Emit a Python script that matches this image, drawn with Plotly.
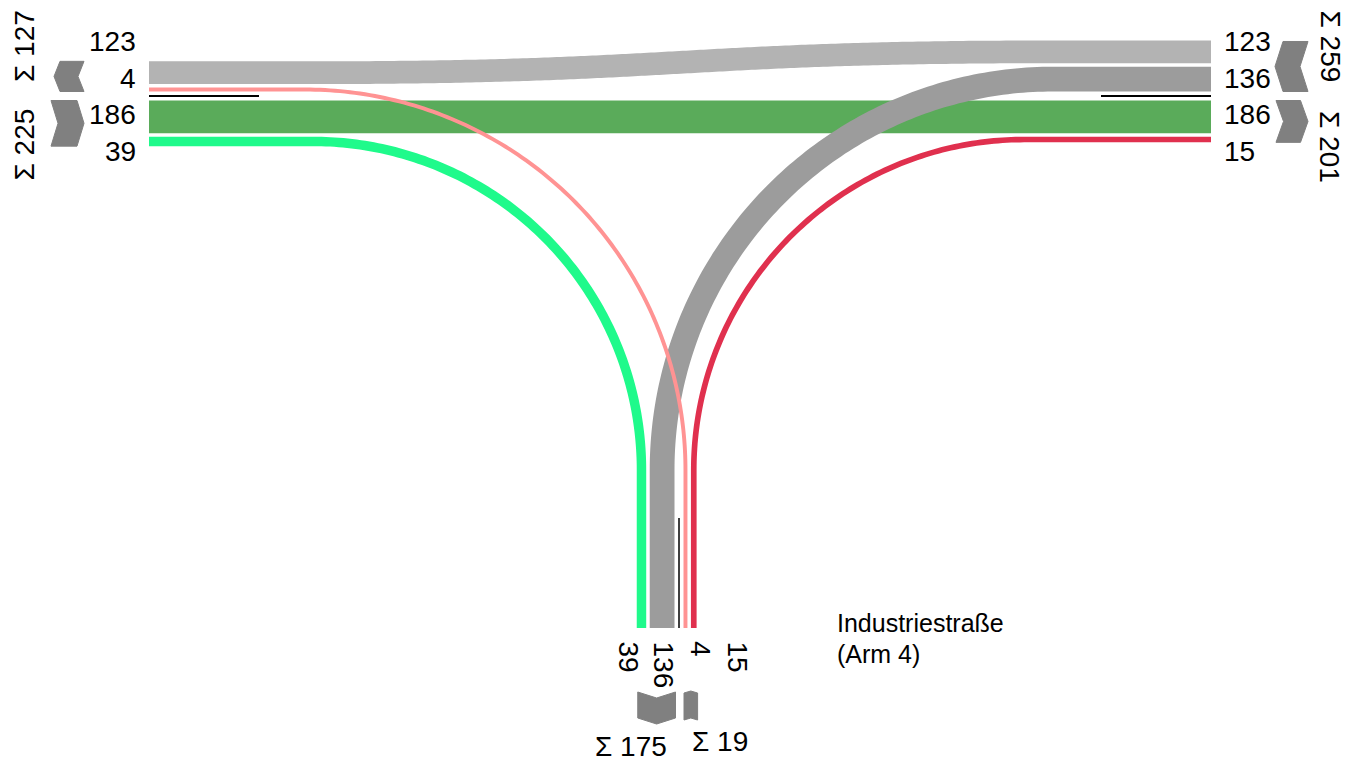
import numpy as np
import plotly.graph_objects as go

# ---------------- data ----------------
flow_from = ["W", "E", "W", "E", "S", "S"]
flow_to = ["E", "W", "S", "S", "E", "W"]
flow_values = [186, 123, 39, 136, 15, 4]
street_label = ["Industriestraße", "(Arm 4)"]

# ---------------- style / layout ----------------
flow_colors = {
    ("W", "E"): "#5aab5a",
    ("E", "W"): "#b3b3b3",
    ("W", "S"): "#1ffa8b",
    ("E", "S"): "#9c9c9c",
    ("S", "E"): "#e0304e",
    ("S", "W"): "#ff9393",
}
FONT = "Liberation Sans, Arial, sans-serif"
PAGE_OFF = 8  # default body margin of the html page
W_END, E_END, S_END = 149, 1211, 628
DIV_Y, DIV_X, DIV_LEN = 96, 679, 110
TURN_Y = 470
GAP, DIV_GAP = 3.5, 4.5
SX0, SX1 = 310, 1053
LABEL_STEP = 36.5

lane_order = {
    ("W", "out"): [("S", "W"), ("E", "W")],
    ("W", "in"): [("W", "E"), ("W", "S")],
    ("E", "in"): [("E", "S"), ("E", "W")],
    ("E", "out"): [("W", "E"), ("S", "E")],
    ("S", "out"): [("E", "S"), ("W", "S")],
    ("S", "in"): [("S", "W"), ("S", "E")],
}
lane_sign = {("W", "out"): -1, ("W", "in"): 1, ("E", "in"): -1, ("E", "out"): 1,
             ("S", "out"): -1, ("S", "in"): 1}

val = {(f, t): v for f, t, v in zip(flow_from, flow_to, flow_values)}


def bw(v):
    return 3.3 + 0.158 * v


lane_pos = {"W": {}, "E": {}, "S": {}}
group_extent = {}
for (arm, kind), keys in lane_order.items():
    s = lane_sign[(arm, kind)]
    div = DIV_X if arm == "S" else DIV_Y
    pos = div + s * DIV_GAP
    start = pos
    for k in keys:
        w = bw(val[k])
        lane_pos[arm][k] = pos + s * w / 2
        pos += s * (w + GAP)
    end = pos - s * GAP
    group_extent[(arm, kind)] = (min(start, end), max(start, end))


def arc(cx, cy, r, a0, a1, n=120):
    th = np.linspace(a0, a1, n)
    return cx + r * np.sin(th), cy - r * np.cos(th)


fig = go.Figure()
for f, t in zip(flow_from, flow_to):
    key = (f, t)
    arms_ = {f, t}
    if arms_ == {"W", "E"}:
        yw, ye = lane_pos["W"][key], lane_pos["E"][key]
        if abs(yw - ye) < 0.01:
            xs = np.array([W_END, E_END]); ys = np.array([yw, ye])
        else:
            tt = np.linspace(0, 1, 160)
            xm = (SX0 + SX1) / 2
            bx = (1 - tt) ** 3 * SX0 + 3 * (1 - tt) ** 2 * tt * xm + 3 * (1 - tt) * tt ** 2 * xm + tt ** 3 * SX1
            by = (1 - tt) ** 3 * yw + 3 * (1 - tt) ** 2 * tt * yw + 3 * (1 - tt) * tt ** 2 * ye + tt ** 3 * ye
            xs = np.concatenate([[W_END], bx, [E_END]])
            ys = np.concatenate([[yw], by, [ye]])
    elif arms_ == {"W", "S"}:
        yw, xsL = lane_pos["W"][key], lane_pos["S"][key]
        r = TURN_Y - yw
        cx = xsL - r
        ax, ay = arc(cx, TURN_Y, r, 0, np.pi / 2)
        xs = np.concatenate([[W_END], ax, [xsL]])
        ys = np.concatenate([[yw], ay, [S_END]])
    else:
        ye, xsL = lane_pos["E"][key], lane_pos["S"][key]
        r = TURN_Y - ye
        cx = xsL + r
        ax, ay = arc(cx, TURN_Y, r, 0, -np.pi / 2)
        xs = np.concatenate([[E_END], ax, [xsL]])
        ys = np.concatenate([[ye], ay, [S_END]])
    fig.add_trace(go.Scatter(x=xs, y=ys, mode="lines",
                             line=dict(color=flow_colors[key], width=bw(val[key]), simplify=False),
                             hoverinfo="skip", showlegend=False))

shapes = []
# divider lines
shapes.append(dict(type="line", x0=W_END, x1=W_END + DIV_LEN, y0=DIV_Y, y1=DIV_Y,
                   line=dict(color="black", width=2)))
shapes.append(dict(type="line", x0=E_END - DIV_LEN, x1=E_END, y0=DIV_Y, y1=DIV_Y,
                   line=dict(color="black", width=2)))
shapes.append(dict(type="line", x0=DIV_X, x1=DIV_X, y0=S_END - DIV_LEN, y1=S_END,
                   line=dict(color="black", width=1.5)))


def chevron(x0, x1, y0, y1, direction, d):
    xm, ym = (x0 + x1) / 2, (y0 + y1) / 2
    if direction == "left":
        pts = [(x0 + d, y0), (x1, y0), (x1 - d, ym), (x1, y1), (x0 + d, y1), (x0, ym)]
    elif direction == "right":
        pts = [(x0, y0), (x1 - d, y0), (x1, ym), (x1 - d, y1), (x0, y1), (x0 + d, ym)]
    elif direction == "down":
        pts = [(x0, y0), (xm, y0 + d), (x1, y0), (x1, y1 - d), (xm, y1), (x0, y1 - d)]
    else:
        pts = [(x0, y0 + d), (xm, y0), (x1, y0 + d), (x1, y1), (xm, y1 - d), (x0, y1)]
    path = "M " + " L ".join(f"{px:.2f},{py:.2f}" for px, py in pts) + " Z"
    return dict(type="path", path=path, fillcolor="#808080", line=dict(color="#808080", width=1))


e = group_extent
shapes.append(chevron(54, 84, e[("W", "out")][0], e[("W", "out")][1], "left", 6))
shapes.append(chevron(51, 84, e[("W", "in")][0], e[("W", "in")][1], "right", 7))
shapes.append(chevron(1275, 1308, e[("E", "in")][0] + 1, e[("E", "in")][1], "left", 8))
shapes.append(chevron(1276, 1308, e[("E", "out")][0], e[("E", "out")][1], "right", 7.5))
shapes.append(chevron(e[("S", "out")][0] + 1, e[("S", "out")][1] + 1, 692, 724, "down", 6))
shapes.append(chevron(e[("S", "in")][0] + 0.5, e[("S", "in")][1] + 1, 691, 720, "up", 2))

ann = []
FS = 28


def txt(x, y, s, xa="center", ya="middle", angle=0, size=FS):
    ann.append(dict(x=x, y=y, text=s, showarrow=False, xanchor=xa, yanchor=ya,
                    textangle=angle, font=dict(family=FONT, size=size, color="black")))


offs = [-1.5, -0.5, 0.5, 1.5]
south_offs = [-51, -16, 22, 58]
west_keys = lane_order[("W", "out")][::-1] + lane_order[("W", "in")]
east_keys = lane_order[("E", "in")][::-1] + lane_order[("E", "out")]
south_keys = lane_order[("S", "out")][::-1] + lane_order[("S", "in")]
for o, k in zip(offs, west_keys):
    txt(138, DIV_Y + o * LABEL_STEP + 0.5, str(val[k]), xa="right")
for o, k in zip(offs, east_keys):
    txt(1222, DIV_Y + o * LABEL_STEP + 0.5, str(val[k]), xa="left")
for o, k in zip(south_offs, south_keys):
    txt(DIV_X + o, 639, str(val[k]), ya="top", angle=90)

sums = {g: sum(val[k] for k in keys) for g, keys in lane_order.items()}
txt(24, 46, f"Σ {sums[('W', 'out')]}", angle=-90)
txt(24, 144.5, f"Σ {sums[('W', 'in')]}", angle=-90)
txt(1330, 46.5, f"Σ {sums[('E', 'in')]}", angle=90)
txt(1330, 147, f"Σ {sums[('E', 'out')]}", angle=90)
txt(630.5, 746, f"Σ {sums[('S', 'out')]}")
txt(719.5, 741, f"Σ {sums[('S', 'in')]}")

txt(835, 623, street_label[0], xa="left", size=25)
txt(835, 654, street_label[1], xa="left", size=25)

fig.update_layout(
    width=1359, height=762, autosize=False,
    margin=dict(l=0, r=0, t=0, b=0),
    paper_bgcolor="white", plot_bgcolor="white",
    xaxis=dict(range=[PAGE_OFF, 1359 + PAGE_OFF], visible=False, fixedrange=True),
    yaxis=dict(range=[762 + PAGE_OFF, PAGE_OFF], visible=False, fixedrange=True),
    shapes=shapes, annotations=ann, showlegend=False,
)
fig.write_html("out.html", config={"displayModeBar": False})
